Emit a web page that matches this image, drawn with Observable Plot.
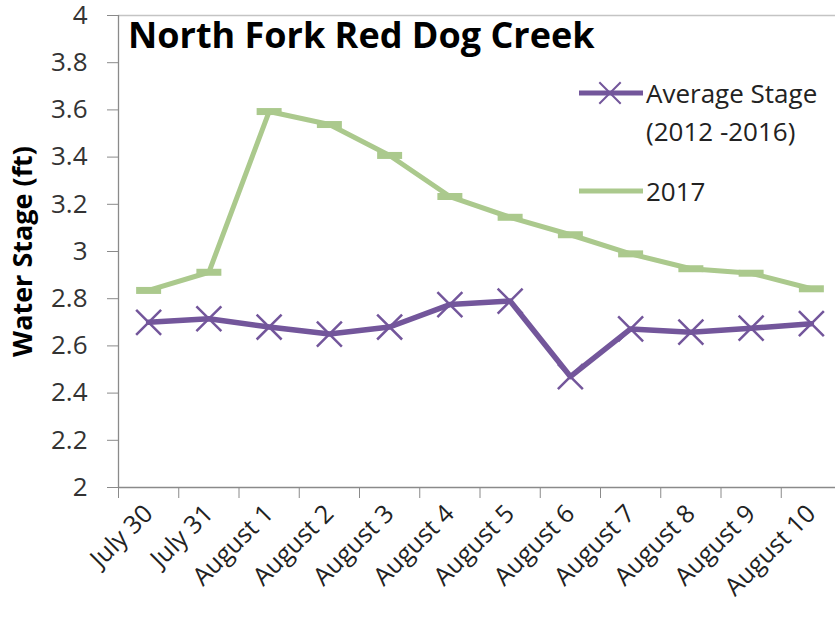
<!DOCTYPE html>
<html>
<head>
<meta charset="utf-8">
<script src="https://cdn.jsdelivr.net/npm/d3@7"></script>
<script src="https://cdn.jsdelivr.net/npm/@observablehq/plot@0.6"></script>
<style>
  body { margin: 0; background: #fff; font-family: "Open Sans", sans-serif; }
  #wrap { position: relative; width: 835px; height: 622px; overflow: hidden; }
  #title { position: absolute; left: 128px; top: 17px; font-weight: bold; font-size: 36px; line-height: 36px; color: #000; white-space: nowrap; }
  #legend { position: absolute; left: 578px; top: 74px; font-size: 26px; color: #222; }
  .item { display: flex; align-items: flex-start; }
  .item svg { flex: none; }
  .item .lbl { line-height: 38px; white-space: nowrap; }
  svg g[aria-label="y-axis label"] text { font-weight: bold; font-size: 27px; fill: #000; }
</style>
</head>
<body>
<div id="wrap">
  <div id="chart"></div>
  <div id="title">North Fork Red Dog Creek</div>
  <div id="legend"></div>
</div>
<script>
// ---- data ----
const dates = ["July 30", "July 31", "August 1", "August 2", "August 3", "August 4",
               "August 5", "August 6", "August 7", "August 8", "August 9", "August 10"];
const averageStage = [2.70, 2.715, 2.68, 2.65, 2.68, 2.775, 2.79, 2.47, 2.672, 2.658, 2.675, 2.694];
const stage2017 = [2.835, 2.912, 3.593, 3.538, 3.407, 3.233, 3.145, 3.071, 2.99, 2.927, 2.908, 2.842];
const yTicks = [2, 2.2, 2.4, 2.6, 2.8, 3, 3.2, 3.4, 3.6, 3.8, 4];
const seriesNames = [["Average Stage", "(2012 -2016)"], ["2017"]];
const seriesColors = ["#73569b", "#abc98d"];

// ---- build tables ----
const avgRows = dates.map((d, i) => ({pos: i + 0.5, date: d, value: averageStage[i]}));
const rows2017 = dates.map((d, i) => ({pos: i + 0.5, date: d, value: stage2017[i]}));
const boundaries = d3.range(dates.length + 1);
const centers = dates.map((d, i) => i + 0.5);

const dashSymbol = {
  draw(ctx, size) {
    const w = Math.sqrt(size);
    ctx.moveTo(-w, 0);
    ctx.lineTo(w, 0);
  }
};

const chart = Plot.plot({
  width: 835,
  height: 622,
  marginLeft: 118,
  marginRight: -6,
  marginTop: 15,
  marginBottom: 135,
  style: {fontFamily: "'Open Sans', sans-serif", fontSize: "26px", overflow: "visible"},
  x: {type: "linear", domain: [0, dates.length], axis: null},
  y: {domain: [2, 4], axis: null},
  marks: [
    Plot.ruleY([4], {stroke: "#c4c4c4", strokeWidth: 1.3}),
    Plot.ruleY([2], {stroke: "#8a8a8a", strokeWidth: 1.3}),
    Plot.ruleX([0], {stroke: "#8a8a8a", strokeWidth: 1.3}),
    Plot.axisY({
      ticks: yTicks, tickSize: 11, tickPadding: 20,
      tickFormat: d => String(+d.toFixed(1)),
      stroke: "#8a8a8a", fill: "#333", fontSize: 26,
      label: "Water Stage (ft)", labelAnchor: "center", labelOffset: 106, labelArrow: false
    }),
    Plot.axisX({ticks: boundaries, tickSize: 11, stroke: "#8a8a8a", text: null, label: null}),
    Plot.axisX({
      ticks: centers, tickSize: 0, tickRotate: -45,
      tickFormat: d => dates[Math.floor(d)],
      fill: "#222", fontSize: 25, tickPadding: 22, dx: 0, label: null
    }),
    Plot.line(rows2017, {x: "pos", y: "value", stroke: seriesColors[1], strokeWidth: 5}),
    Plot.dot(rows2017, {x: "pos", y: "value", symbol: dashSymbol, r: 7.05, stroke: seriesColors[1], strokeWidth: 7, fill: "none"}),
    Plot.line(avgRows, {x: "pos", y: "value", stroke: seriesColors[0], strokeWidth: 5.5}),
    Plot.dot(avgRows, {x: "pos", y: "value", symbol: "times", r: 11.4, stroke: seriesColors[0], strokeWidth: 2.5})
  ]
});
document.getElementById("chart").appendChild(chart);

// ---- legend (inside plot area, like the original) ----
const legend = d3.select("#legend");
seriesNames.forEach((lines, i) => {
  const item = legend.append("div").attr("class", "item").style("margin-bottom", i === 0 ? "22px" : "0");
  const sw = item.append("svg").attr("width", 68).attr("height", 38);
  sw.append("line").attr("x1", 1).attr("x2", 65).attr("y1", 19).attr("y2", 19)
    .attr("stroke", seriesColors[i]).attr("stroke-width", 5);
  if (i === 0) {
    sw.append("path").attr("d", d3.symbol(d3.symbolTimes, 300)()).attr("transform", "translate(32,19)")
      .attr("stroke", seriesColors[i]).attr("stroke-width", 2).attr("fill", "none");
  }
  const lbl = item.append("div").attr("class", "lbl");
  lines.forEach(t => lbl.append("div").text(t));
});
</script>
</body>
</html>
